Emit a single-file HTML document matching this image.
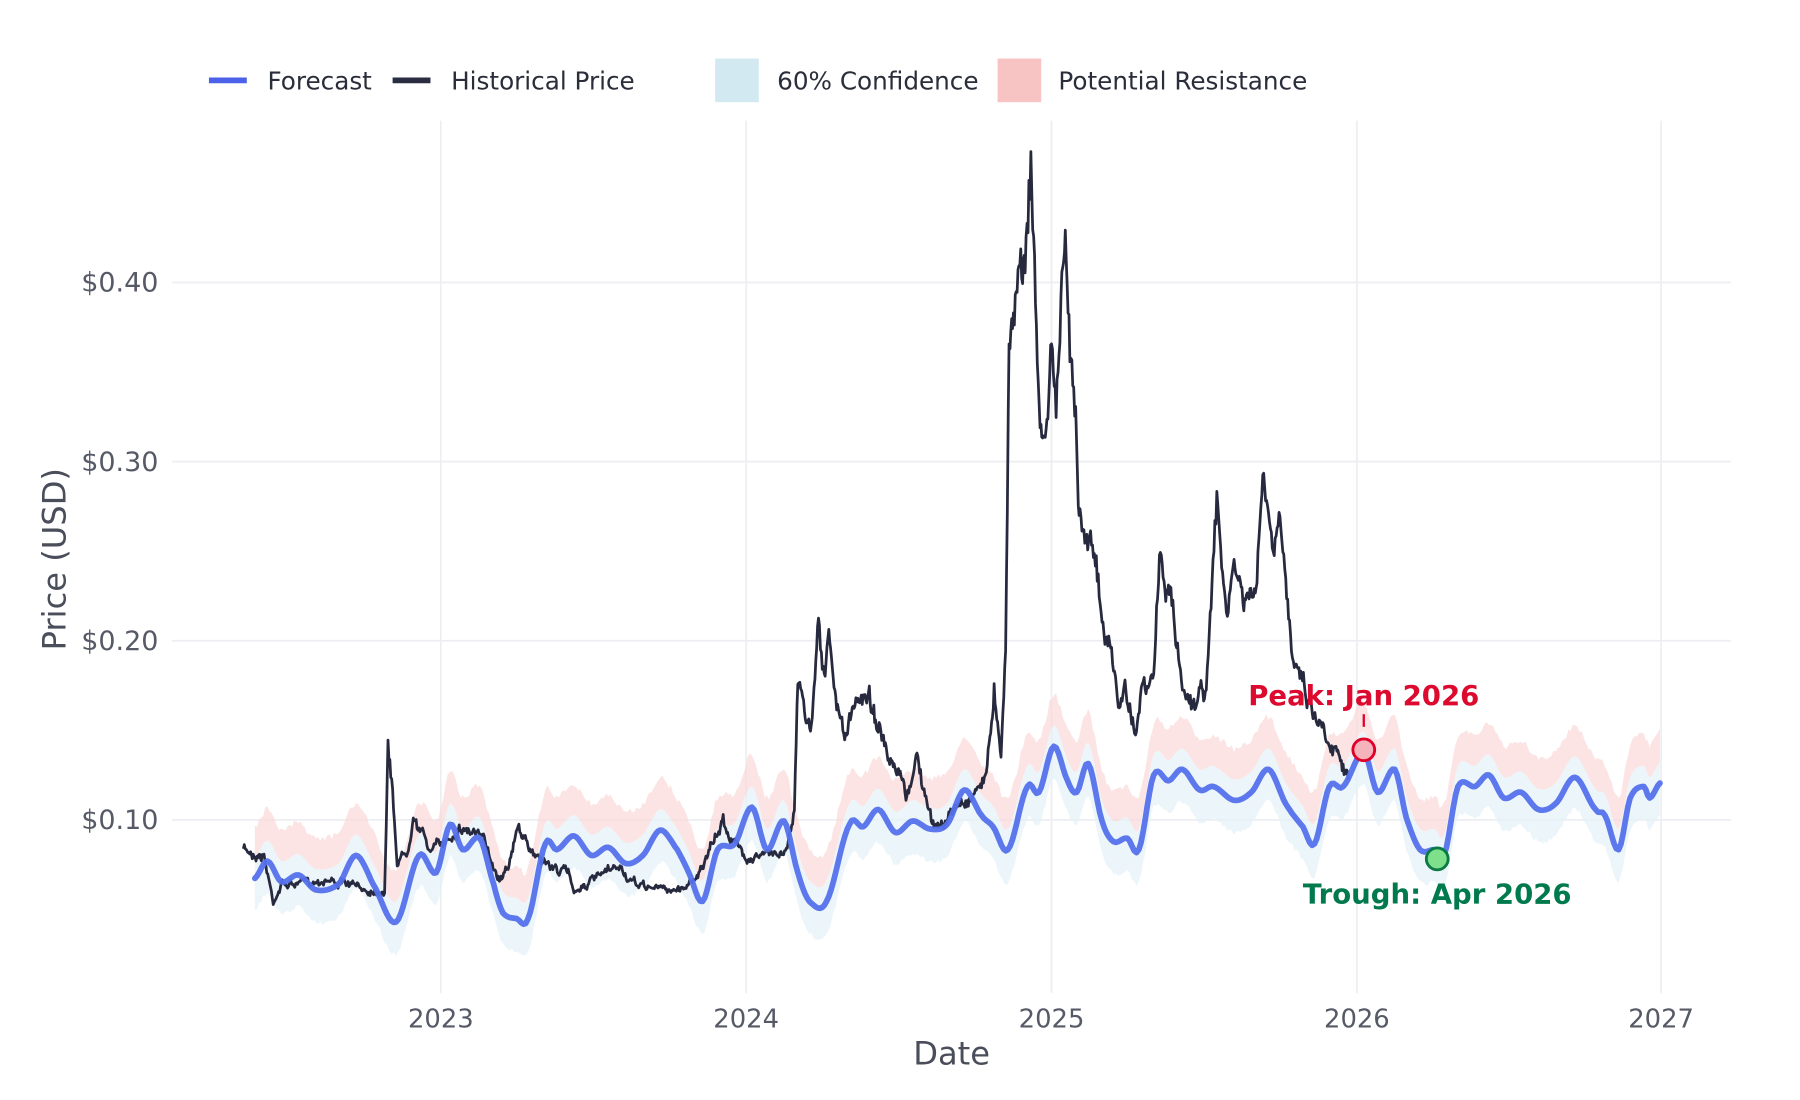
<!DOCTYPE html>
<html><head><meta charset="utf-8"><style>
html,body{margin:0;padding:0;background:#fff;}
svg{display:block;font-family:"DejaVu Sans","Liberation Sans",sans-serif;}
</style></head><body>
<svg id="s" width="1800" height="1100" viewBox="0 0 1568 958" preserveAspectRatio="none" xmlns="http://www.w3.org/2000/svg">
<rect width="1568" height="958" fill="#fff"/>
<g stroke="#eceef2" stroke-width="1.5">
<line x1="384" y1="105" x2="384" y2="865"/><line x1="650" y1="105" x2="650" y2="865"/>
<line x1="916" y1="105" x2="916" y2="865"/><line x1="1182" y1="105" x2="1182" y2="865"/>
<line x1="1447" y1="105" x2="1447" y2="865"/>
<line x1="150" y1="246" x2="1508" y2="246"/><line x1="150" y1="402" x2="1508" y2="402"/>
<line x1="150" y1="558" x2="1508" y2="558"/><line x1="150" y1="714" x2="1508" y2="714"/>
</g>
<g fill="#555a66" font-size="23.5" text-anchor="end">
<text x="138" y="254">$0.40</text><text x="138" y="410">$0.30</text>
<text x="138" y="566">$0.20</text><text x="138" y="722">$0.10</text>
</g>
<g fill="#555a66" font-size="22.5" text-anchor="middle">
<text x="384" y="895">2023</text><text x="650" y="895">2024</text><text x="916" y="895">2025</text>
<text x="1182" y="895">2026</text><text x="1447" y="895">2027</text>
</g>
<text x="829" y="927" font-size="28" fill="#4a4e5a" text-anchor="middle">Date</text>
<text transform="translate(57,487) rotate(-90)" font-size="28" fill="#4a4e5a" text-anchor="middle">Price (USD)</text>
<g font-size="21.5" fill="#2a2d3a">
<line x1="182" y1="70" x2="215" y2="70" stroke="#4a61e8" stroke-width="5"/><text x="233" y="78">Forecast</text>
<line x1="342" y1="70" x2="375" y2="70" stroke="#2a2d42" stroke-width="5"/><text x="393" y="78">Historical Price</text>
<rect x="623" y="51" width="38" height="38" fill="#d3e9f1"/><text x="677" y="78">60% Confidence</text>
<rect x="869" y="51" width="38" height="38" fill="#f8c4c3"/><text x="922" y="78">Potential Resistance</text>
</g>
<path id="pink" fill="#fbd9d8" opacity="0.7"/>
<path id="conf" fill="#e4f2f8" opacity="0.7"/>
<path id="hist" fill="none" stroke="#272a3e" stroke-width="2.4" stroke-linejoin="round"/>
<path id="fc" fill="none" stroke="#5571ec" stroke-width="5" stroke-linejoin="round" stroke-linecap="round" opacity="0.95"/>
<line x1="1188" y1="622" x2="1188" y2="633" stroke="#e0002a" stroke-width="2"/>
<circle cx="1188" cy="653" r="9.5" fill="#f5b3bc" stroke="#e0002a" stroke-width="2.5"/>
<text x="1188" y="614" font-size="24" font-weight="bold" fill="#dc0a2f" text-anchor="middle">Peak: Jan 2026</text>
<circle cx="1252" cy="748" r="9.5" fill="#7ee08a" stroke="#0b7a45" stroke-width="2.5"/>
<text x="1252" y="787" font-size="24" font-weight="bold" fill="#007a4d" text-anchor="middle">Trough: Apr 2026</text>
</svg>
<script>
var H=[[212,740],[230,745],[238,785],[245,770],[260,770],[285,765],[300,770],[320,775],[335,775],[338,650],[342,690],[346,750],[355,740],[360,705],[365,720],[375,740],[385,735],[400,720],[415,725],[425,740],[435,765],[445,745],[452,720],[460,740],[470,745],[480,755],[495,760],[500,775],[520,765],[540,755],[550,770],[570,773],[590,775],[600,770],[615,750],[630,715],[640,735],[650,745],[670,745],[685,740],[692,700],[695,595],[700,610],[706,640],[713,530],[718,590],[722,560],[728,610],[735,640],[740,630],[748,610],[755,600],[765,630],[775,670],[785,680],[790,700],[798,655],[805,690],[812,720],[825,715],[835,700],[845,695],[855,680],[860,670],[866,600],[872,650],[876,560],[879,300],[882,280],[886,220],[890,240],[893,215],[898,140],[902,260],[906,380],[912,370],[916,300],[920,350],[925,260],[928,230],[932,310],[937,350],[940,430],[945,470],[950,450],[955,490],[960,550],[965,560],[970,580],[975,620],[980,600],[985,620],[990,630],[995,600],[1000,605],[1005,590],[1010,480],[1014,510],[1020,520],[1025,560],[1030,600],[1040,610],[1050,600],[1055,530],[1060,440],[1065,500],[1070,540],[1075,490],[1085,530],[1095,510],[1100,420],[1105,450],[1110,490],[1115,460],[1120,510],[1125,560],[1130,570],[1140,610],[1150,630],[1160,645],[1170,660],[1175,675]];
var F=[[222,765],[233,750],[245,768],[260,762],[275,775],[295,770],[310,745],[325,770],[345,803],[365,745],[380,760],[392,718],[403,740],[418,730],[430,770],[438,795],[450,800],[460,800],[475,735],[485,740],[500,728],[515,745],[530,738],[545,752],[560,745],[575,723],[590,740],[600,760],[612,785],[625,740],[640,735],[655,703],[668,740],[683,715],[695,760],[705,785],[720,785],[740,718],[752,720],[765,705],[780,725],[795,715],[810,722],[825,718],[840,688],[855,710],[865,720],[878,740],[895,685],[905,690],[918,650],[930,680],[938,690],[948,665],[960,715],[970,733],[982,730],[992,740],[1005,675],[1018,680],[1030,670],[1045,688],[1057,685],[1075,697],[1090,690],[1105,670],[1120,700],[1135,720],[1145,735],[1158,685],[1170,685],[1188,655],[1200,690],[1215,670],[1225,712],[1237,740],[1250,740],[1258,745],[1270,685],[1285,685],[1297,675],[1310,695],[1325,690],[1340,705],[1355,700],[1372,677],[1390,705],[1398,710],[1410,740],[1420,695],[1432,685],[1437,695],[1446,682]];
var seed=7;function rnd(){seed=(seed*16807)%2147483647;return seed/2147483647-0.5;}
function interp(P,step){var o=[];for(var i=0;i<P.length-1;i++){var a=P[i],b=P[i+1];var n=Math.max(1,Math.round((b[0]-a[0])/step));for(var k=0;k<n;k++){var t=k/n;o.push([a[0]+(b[0]-a[0])*t,a[1]+(b[1]-a[1])*t]);}}o.push(P[P.length-1]);return o;}
function cr(P,step){var o=[];for(var i=0;i<P.length-1;i++){var p0=P[Math.max(0,i-1)],p1=P[i],p2=P[i+1],p3=P[Math.min(P.length-1,i+2)];var n=Math.max(2,Math.round((p2[0]-p1[0])/step));for(var k=0;k<n;k++){var t=k/n,t2=t*t,t3=t2*t;var y=0.5*((2*p1[1])+(-p0[1]+p2[1])*t+(2*p0[1]-5*p1[1]+4*p2[1]-p3[1])*t2+(-p0[1]+3*p1[1]-3*p2[1]+p3[1])*t3);o.push([p1[0]+(p2[0]-p1[0])*t,y]);}}o.push(P[P.length-1]);return o;}
function d(P){return "M"+P.map(function(p){return p[0].toFixed(1)+","+p[1].toFixed(1);}).join("L");}
var walk=0;
var h=interp(H,0.8).map(function(p){var amp=(870-p[1])*0.07;walk=walk*0.8+rnd()*0.6;return [p[0],p[1]+(walk+rnd()*0.5)*amp];});
document.getElementById("hist").setAttribute("d",d(h));
var f=cr(F,2);
document.getElementById("fc").setAttribute("d",d(f));
var up=f.map(function(p){return [p[0],p[1]-45+rnd()*6];}),mid=f.map(function(p){return [p[0],p[1]-18];}),lo=f.map(function(p){return [p[0],p[1]+28+rnd()*4];});
document.getElementById("pink").setAttribute("d",d(up)+"L"+mid.slice().reverse().map(function(p){return p[0].toFixed(1)+","+p[1].toFixed(1);}).join("L")+"Z");
document.getElementById("conf").setAttribute("d",d(mid)+"L"+lo.slice().reverse().map(function(p){return p[0].toFixed(1)+","+p[1].toFixed(1);}).join("L")+"Z");
</script>
</body></html>
